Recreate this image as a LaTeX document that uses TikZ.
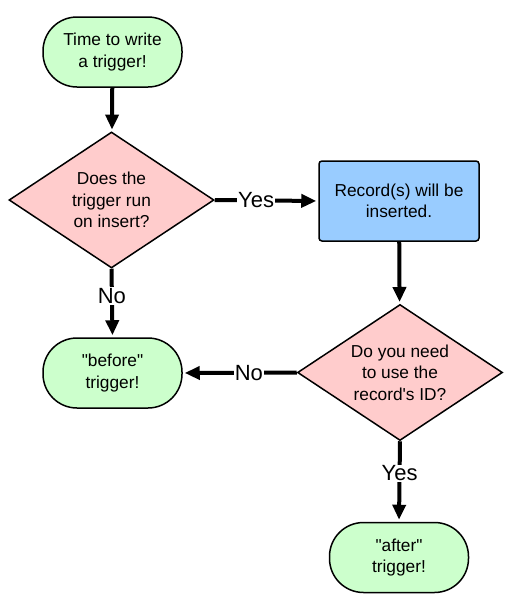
\documentclass[tikz,border=0pt]{standalone}
\usepackage{fontspec}
\setmainfont{Liberation Sans}[Ligatures=TeXOff]
\usetikzlibrary{shapes.geometric,arrows.meta}
\definecolor{termgreen}{HTML}{CCFFCC}
\definecolor{decpink}{HTML}{FFCCCC}
\definecolor{procblue}{HTML}{99CCFF}
\begin{document}
\begin{tikzpicture}[x=1pt,y=-1pt,
  every node/.style={font=\fontsize{17.3}{21.5}\selectfont, align=center, text=black},
  terminal/.style={draw, line width=1.5pt, fill=termgreen, rectangle, rounded corners=34pt, minimum width=139pt, minimum height=70pt, inner sep=0pt},
  decision/.style={draw, line width=1.5pt, fill=decpink, diamond, aspect=1.5, minimum width=205pt, minimum height=136pt, inner sep=0pt},
  process/.style={draw, line width=1.5pt, fill=procblue, rectangle, rounded corners=3pt, minimum width=160pt, minimum height=80pt, inner sep=0pt},
  flow/.style={line width=4pt, -{Triangle[length=15pt,width=13pt]}, shorten >=2pt},
  lbl/.style={fill=white, inner sep=1pt, font=\fontsize{22}{24}\selectfont}]
\useasboundingbox (0,0) rectangle (509,606);
\node[terminal] (start) at (112.5,52) {Time to write\\a trigger!};
\node[decision] (d1) at (111.5,200) {Does the\\trigger run\\on insert?};
\node[process] (rec) at (399,201) {Record(s) will be\\inserted.};
\node[decision] (d2) at (400,372.5) {Do you need\\to use the\\record's ID?};
\node[terminal] (before) at (112.5,373) {"before"\\trigger!};
\node[terminal] (after) at (399,557.5) {"after"\\trigger!};
\draw[flow] (start) -- (d1);
\draw[flow] (d1.east) -- node[lbl, pos=0.4] {Yes} (rec.west);
\draw[flow] (rec) -- (d2);
\draw[flow] (d1.south) -- node[lbl, pos=0.4] {No} (before.north);
\draw[flow] (d2.west) -- node[lbl, pos=0.42] {No} (before.east);
\draw[flow] (d2.south) -- node[lbl, pos=0.4] {Yes} (after.north);
\end{tikzpicture}
\end{document}
